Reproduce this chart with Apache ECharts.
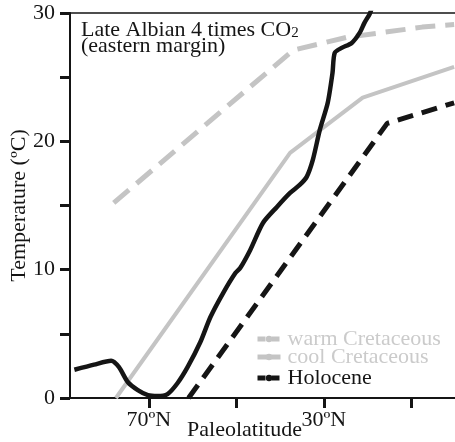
<!DOCTYPE html>
<html>
<head>
<meta charset="utf-8">
<script src="https://cdn.jsdelivr.net/npm/echarts@6/dist/echarts.min.js"></script>
<style>html,body{margin:0;padding:0;background:#fff}#c{width:455px;height:442px}</style>
</head>
<body>
<div id="c"></div>
<script>
// Late Albian 4x CO2 (eastern margin) – black solid line
const co2Lat  = [87.0, 82.5, 78.6, 76.8, 74.8, 72.5, 70.2, 68.0, 65.7, 63.4, 61.1, 58.2, 55.9, 53.0, 50.2, 49.1, 46.8, 43.9, 40.7, 37.7, 35.5, 33.9, 32.5, 30.9, 29.1, 28.0, 27.5, 25.9, 23.6, 21.8, 20.7, 19.5, 19.1];
const co2Temp = [2.2, 2.6, 2.9, 2.4, 1.25, 0.62, 0.23, 0.16, 0.31, 1.17, 2.42, 4.36, 6.31, 8.18, 9.74, 10.13, 11.54, 13.64, 14.89, 15.98, 16.6, 17.23, 18.55, 20.89, 22.99, 25.33, 26.89, 27.28, 27.67, 28.45, 29.23, 29.93, 30.3];
// warm Cretaceous – gray dashed
const warmLat  = [78.0, 37.0, 24.8, 7.5, 0.2];
const warmTemp = [15.2, 27.1, 28.1, 28.9, 29.1];
// cool Cretaceous – gray solid
const coolLat  = [77.5, 37.7, 21.1, 0.2];
const coolTemp = [0, 19.1, 23.4, 25.8];
// Holocene – black dashed
const holoLat  = [60.9, 15.5, 0.2];
const holoTemp = [0, 21.4, 23.0];
// axis ticks / labels
const xTickValues  = [70, 50, 30, 10];
const xLabelValues = [70, 30];
const seriesNames = ['warm Cretaceous', 'cool Cretaceous', 'Holocene', 'Late Albian 4 times CO2'];

const pairs = (xs, ys) => xs.map((x, i) => [x, ys[i]]);
const FONT = '"Liberation Serif", "Times New Roman", serif';
const GRAY = '#c4c4c4';
const INK = '#151515';

const chart = echarts.init(document.getElementById('c'), null, {renderer: 'canvas'});
const legendBase = (name, top, color, lineType) => ({
  data: [name], left: 255, top: top, padding: 0, orient: 'vertical',
  itemWidth: 23, itemHeight: 8, itemGap: 0,
  lineStyle: {width: 5, type: lineType},
  textStyle: {fontFamily: FONT, fontSize: 22, color: color, padding: [0, 0, 0, 2]},
  selectedMode: false
});

chart.setOption({
  animation: false,
  backgroundColor: '#fff',
  title: [
    {
      text: '{a|Late Albian 4 times CO}{s|2}',
      left: 81, top: 19, padding: 0,
      textStyle: {
        fontWeight: 'normal',
        rich: {
          a: {fontFamily: FONT, fontSize: 22, fontWeight: 'normal', color: INK, lineHeight: 22},
          s: {fontFamily: FONT, fontSize: 15, fontWeight: 'normal', color: INK, lineHeight: 6, verticalAlign: 'bottom'}
        }
      }
    },
    {
      text: '(eastern margin)',
      left: 81, top: 35, padding: 0,
      textStyle: {fontFamily: FONT, fontSize: 22, color: INK, fontWeight: 'normal', lineHeight: 22}
    }
  ],
  legend: [
    legendBase(seriesNames[0], 328, '#cbcbcb', [8, 6]),
    legendBase(seriesNames[1], 346, '#cbcbcb', 'solid'),
    legendBase(seriesNames[2], 367, INK, [8, 6])
  ],
  grid: {left: 70, right: 0, top: 13, bottom: 44, containLabel: false, outerBoundsMode: 'none'},
  xAxis: [
    {
      type: 'value', inverse: true, min: 0, max: 88, position: 'bottom',
      name: 'Paleolatitude', nameLocation: 'middle', nameGap: 21, nameMoveOverlap: false,
      nameTextStyle: {fontFamily: FONT, fontSize: 22, color: INK, padding: [0, 36, 0, 0]},
      axisLine: {show: true, onZero: false, lineStyle: {color: INK, width: 2}},
      axisTick: {show: true, customValues: xTickValues, length: 10, inside: false, lineStyle: {color: INK, width: 3}},
      axisLabel: {show: true, customValues: xLabelValues, formatter: v => v + 'ºN', fontFamily: FONT, fontSize: 22, color: INK, margin: 11},
      splitLine: {show: false}
    },
    {
      type: 'value', inverse: true, min: 0, max: 88, position: 'top',
      axisLine: {show: true, onZero: false, lineStyle: {color: INK, width: 1.5}},
      axisTick: {show: false}, axisLabel: {show: false}, splitLine: {show: false}
    }
  ],
  yAxis: {
    type: 'value', min: 0, max: 30, interval: 5, position: 'left',
    name: 'Temperature (ºC)', nameLocation: 'middle', nameGap: 40, nameMoveOverlap: false,
    nameTextStyle: {fontFamily: FONT, fontSize: 22, color: INK},
    axisLine: {show: true, onZero: false, lineStyle: {color: INK, width: 2}},
    axisTick: {show: true, length: 10, lineStyle: {color: INK, width: 3}},
    axisLabel: {fontFamily: FONT, fontSize: 22, color: INK, margin: 15,
      formatter: v => (v % 10 === 0 ? String(v) : '')},
    splitLine: {show: false}
  },
  series: [
    {
      name: seriesNames[0], type: 'line', data: pairs(warmLat, warmTemp),
      showSymbol: false, symbol: 'none', color: GRAY,
      lineStyle: {color: GRAY, width: 5, type: [20, 10]}, z: 2
    },
    {
      name: seriesNames[1], type: 'line', data: pairs(coolLat, coolTemp),
      showSymbol: false, symbol: 'none', color: GRAY,
      lineStyle: {color: GRAY, width: 4, type: 'solid'}, z: 2
    },
    {
      name: seriesNames[2], type: 'line', data: pairs(holoLat, holoTemp),
      showSymbol: false, symbol: 'none', color: INK,
      lineStyle: {color: INK, width: 5, type: [16, 9]}, z: 3
    },
    {
      name: seriesNames[3], type: 'line', data: pairs(co2Lat, co2Temp),
      showSymbol: false, symbol: 'none', color: INK, smooth: 0.25,
      lineStyle: {color: INK, width: 4.5, type: 'solid'}, z: 4
    }
  ]
});
</script>
</body>
</html>
